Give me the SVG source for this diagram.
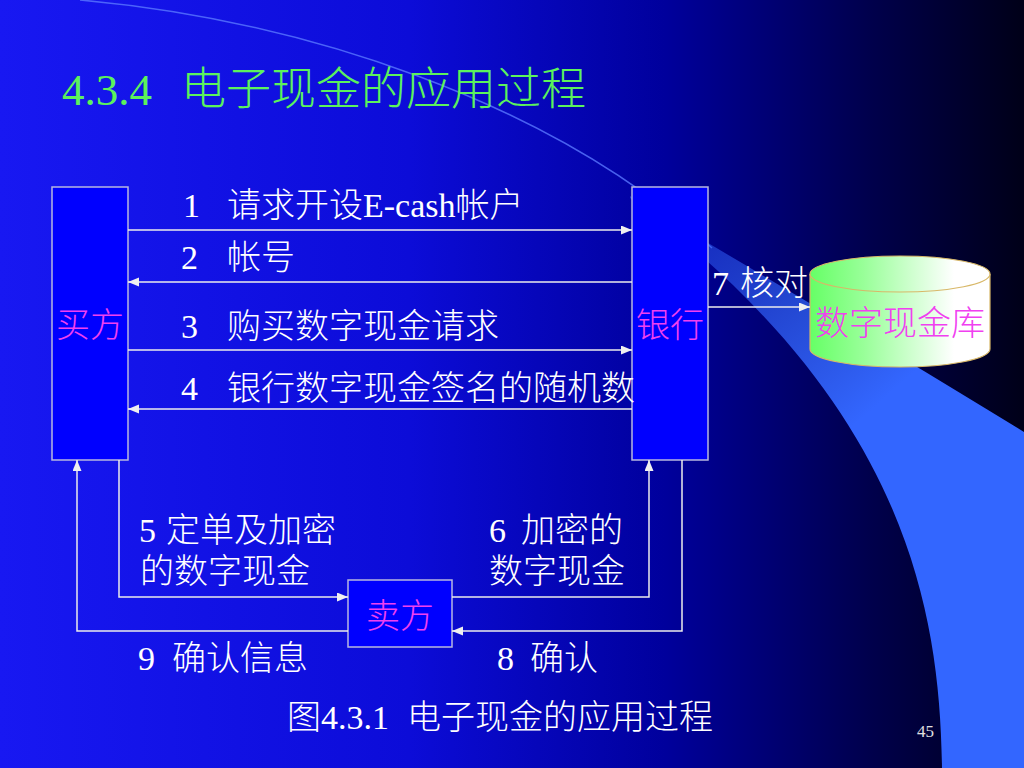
<svg xmlns="http://www.w3.org/2000/svg" width="1024" height="768" viewBox="0 0 1024 768">
<defs>
<linearGradient id="bg" x1="0" y1="0" x2="1" y2="0">
<stop offset="0" stop-color="#1818f2"/>
<stop offset="0.4" stop-color="#0c0cd8"/>
<stop offset="0.65" stop-color="#00009c"/>
<stop offset="0.85" stop-color="#00004c"/>
<stop offset="1" stop-color="#000018"/>
</linearGradient>
<linearGradient id="band" gradientUnits="userSpaceOnUse" x1="700" y1="240" x2="860" y2="420">
<stop offset="0" stop-color="#3366ff" stop-opacity="0.45"/>
<stop offset="1" stop-color="#3366ff" stop-opacity="1"/>
</linearGradient>
<linearGradient id="cyl" x1="0" y1="0" x2="1" y2="0">
<stop offset="0" stop-color="#66ff66"/>
<stop offset="0.3" stop-color="#99ff99"/>
<stop offset="0.8" stop-color="#ffffff"/>
<stop offset="1" stop-color="#ffffff"/>
</linearGradient>
<marker id="ah" markerUnits="userSpaceOnUse" markerWidth="12" markerHeight="10" refX="11" refY="4.5" orient="auto">
<path d="M0,0 L11,4.5 L0,9 Z" fill="#f0f0f0"/>
</marker>
<style>
.box{fill:#0000ff;stroke:#b8b8e0;stroke-width:1.5}
.node{font-family:"Liberation Serif","Noto Sans CJK SC",serif;font-size:34px;font-weight:300;fill:#f040f0;text-anchor:middle}
.lbl{font-family:"Liberation Serif","Noto Sans CJK SC",serif;font-size:34px;font-weight:300;fill:#ffffff}
.conn{fill:none;stroke:#ececec;stroke-width:1.5}
</style>
</defs>
<rect width="1024" height="768" fill="url(#bg)"/>
<path d="M80 0 C300 20, 550 100, 712 248" fill="none" stroke="#5a78ff" stroke-width="1.5" opacity="0.8"/>
<path d="M630 196 C760 275, 900 355, 1024 432 L1024 768 L942 768 C940 600, 900 400, 630 198 Z" fill="url(#band)"/>

<text x="62" y="105" font-family="'Liberation Serif','Noto Sans CJK SC',serif" font-size="45" font-weight="300" fill="#5cf25c">4.3.4<tspan x="181">电子现金的应用过程</tspan></text>

<g id="buyer">
<rect class="box" x="52" y="187" width="76" height="273"/>
<text class="node" x="90" y="337">买方</text>
</g>
<g id="bank">
<rect class="box" x="632" y="187" width="76" height="273"/>
<text class="node" x="670" y="337">银行</text>
</g>
<g id="seller">
<rect class="box" x="348" y="580" width="104" height="67"/>
<text class="node" x="400" y="628">卖方</text>
</g>
<g id="db">
<path d="M810 274 V349 A90 18 0 0 0 990 349 V274" fill="url(#cyl)" stroke="#d8b868" stroke-width="1.2"/>
<ellipse cx="900" cy="274" rx="90" ry="18" fill="url(#cyl)" stroke="#d8b868" stroke-width="1.2"/>
<text class="node" x="900" y="335">数字现金库</text>
</g>

<g id="connectors">
<path class="conn" d="M128 230 H632" marker-end="url(#ah)"/>
<path class="conn" d="M632 282 H128" marker-end="url(#ah)"/>
<path class="conn" d="M128 350 H632" marker-end="url(#ah)"/>
<path class="conn" d="M632 409 H128" marker-end="url(#ah)"/>
<path class="conn" d="M708 307 H810" marker-end="url(#ah)"/>
<path class="conn" d="M119 460 V597 H348" marker-end="url(#ah)"/>
<path class="conn" d="M452 597 H649 V460" marker-end="url(#ah)"/>
<path class="conn" d="M682 460 V631 H452" marker-end="url(#ah)"/>
<path class="conn" d="M348 631 H77 V460" marker-end="url(#ah)"/>
</g>

<g id="labels">
<text class="lbl" x="183" y="217">1<tspan x="227">请求开设E-cash帐户</tspan></text>
<text class="lbl" x="181" y="269">2<tspan x="227">帐号</tspan></text>
<text class="lbl" x="181" y="338">3<tspan x="227">购买数字现金请求</tspan></text>
<text class="lbl" x="181" y="400">4<tspan x="227">银行数字现金签名的随机数</tspan></text>
<text class="lbl" x="712" y="295" font-size="28">7<tspan x="740">核对</tspan></text>
<text class="lbl" x="139" y="542">5<tspan x="166">定单及加密</tspan></text>
<text class="lbl" x="140" y="583">的数字现金</text>
<text class="lbl" x="489" y="542">6<tspan x="521">加密的</tspan></text>
<text class="lbl" x="489" y="583">数字现金</text>
<text class="lbl" x="138" y="670">9<tspan x="172">确认信息</tspan></text>
<text class="lbl" x="497" y="670">8<tspan x="530">确认</tspan></text>
<text class="lbl" x="287" y="729">图<tspan x="321">4.3.1</tspan><tspan x="407">电子现金的应用过程</tspan></text>
<text x="917" y="737" font-family="'Liberation Serif',serif" font-size="17" fill="#e0e0e0">45</text>
</g>
</svg>
